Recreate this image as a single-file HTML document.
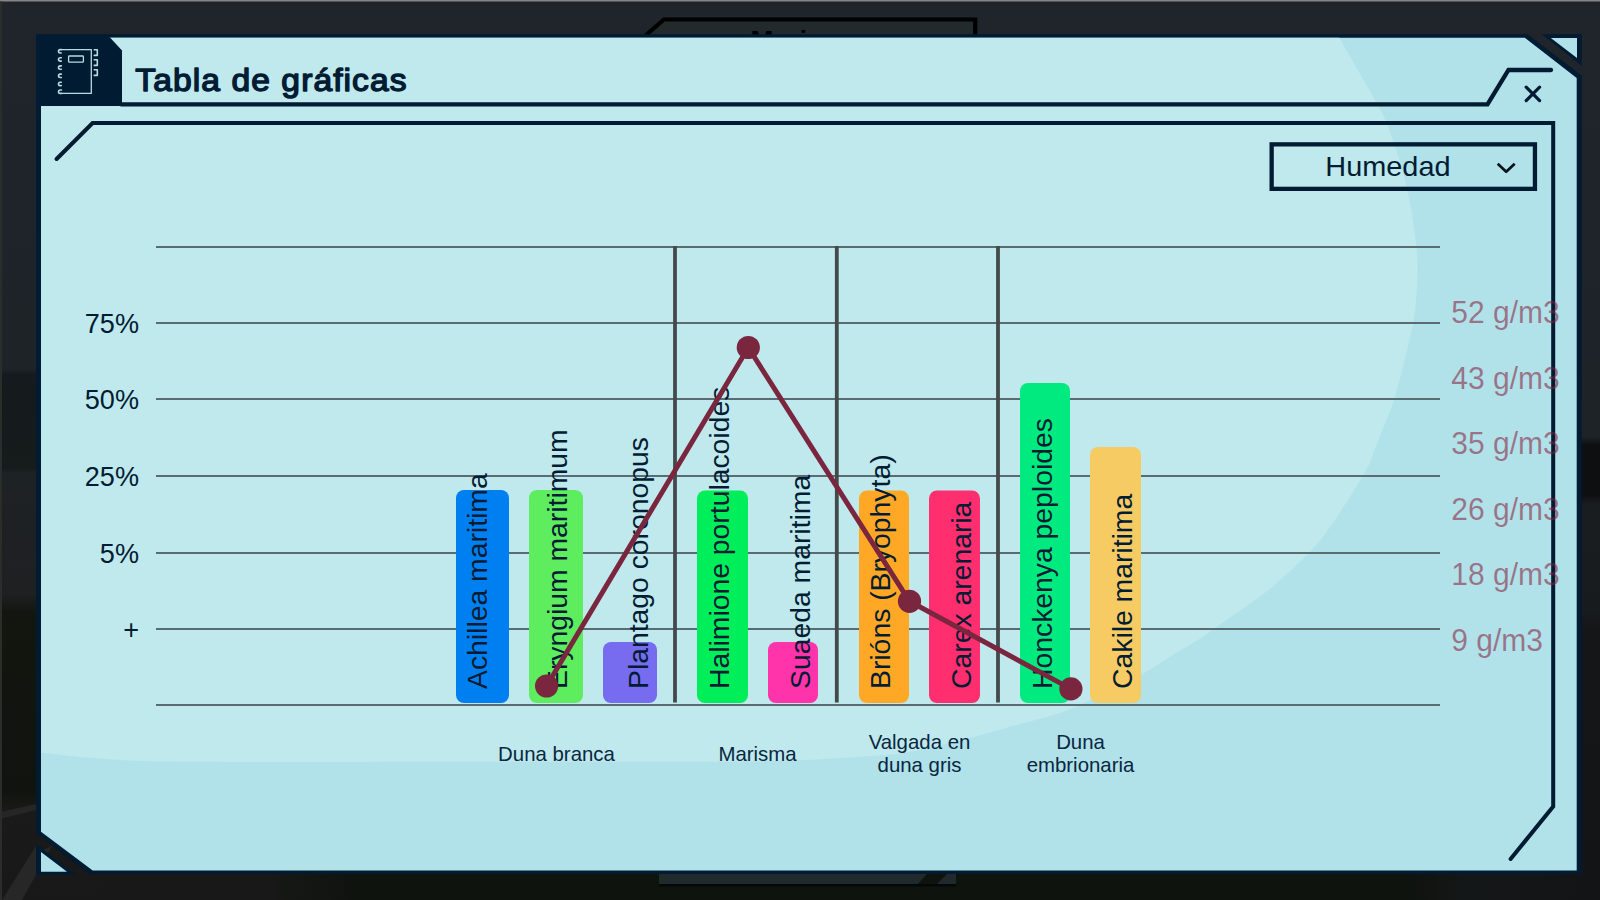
<!DOCTYPE html>
<html lang="es"><head><meta charset="utf-8"><title>Tabla de gráficas</title>
<style>
html,body{margin:0;padding:0;width:1600px;height:900px;overflow:hidden;background:#15191b;}
svg{display:block;position:absolute;left:0;top:0;}
text{font-family:"Liberation Sans",sans-serif;}
</style></head><body>
<svg width="1600" height="900" viewBox="0 0 1600 900">
<defs>
<linearGradient id="bgl" gradientUnits="userSpaceOnUse" x1="0" y1="0" x2="0" y2="900">
<stop offset="0" stop-color="#1f252b"/>
<stop offset="0.41" stop-color="#1e2328"/>
<stop offset="0.416" stop-color="#141a1d"/>
<stop offset="0.52" stop-color="#161b1b"/>
<stop offset="0.526" stop-color="#1d2225"/>
<stop offset="0.66" stop-color="#1f2022"/>
<stop offset="0.68" stop-color="#12160f"/>
<stop offset="0.88" stop-color="#11140e"/>
<stop offset="0.90" stop-color="#1a1a1a"/>
<stop offset="1" stop-color="#181818"/>
</linearGradient>
<linearGradient id="bgr" gradientUnits="userSpaceOnUse" x1="0" y1="0" x2="0" y2="900">
<stop offset="0" stop-color="#1f252b"/>
<stop offset="0.485" stop-color="#1e2328"/>
<stop offset="0.495" stop-color="#0d0f11"/>
<stop offset="0.55" stop-color="#0d0f11"/>
<stop offset="0.56" stop-color="#1a1d20"/>
<stop offset="0.68" stop-color="#181b1d"/>
<stop offset="0.70" stop-color="#141617"/>
<stop offset="1" stop-color="#121415"/>
</linearGradient>
<linearGradient id="bgb" gradientUnits="userSpaceOnUse" x1="0" y1="0" x2="1600" y2="0">
<stop offset="0" stop-color="#181818"/>
<stop offset="0.17" stop-color="#171817"/>
<stop offset="0.22" stop-color="#0f130e"/>
<stop offset="0.88" stop-color="#0f130e"/>
<stop offset="0.92" stop-color="#141718"/>
<stop offset="1" stop-color="#121415"/>
</linearGradient>
<clipPath id="inner"><polygon points="41,37.8 1524.8,37.8 1576.7,77.9 1576.7,870.6 92.7,870.6 41,831.7"/></clipPath>
</defs>
<rect width="1600" height="900" fill="#1f252b"/>
<rect x="0" y="30" width="110" height="870" fill="url(#bgl)"/>
<rect x="1560" y="30" width="40" height="870" fill="url(#bgr)"/>
<rect x="100" y="840" width="1500" height="60" fill="url(#bgb)"/>
<polygon points="0,812 36,804 36,810 0,819" fill="#262626"/>
<polygon points="2,900 36,846 44,850 52,846 22,900" fill="#272727"/>
<rect x="0" y="0" width="1600" height="1.5" fill="#858585"/>
<rect x="0" y="1.5" width="2" height="899" fill="#2c2c2c"/>
<g>
<polygon points="638,42 664,19.5 975.2,19.5 975.2,42" fill="#232a2c" stroke="#000" stroke-width="4.2"/>
<text x="750.5" y="49.7" font-size="27.5" font-weight="bold" fill="#000">Marisma</text>
</g>
<g>
<polygon points="659,874 659,884 918,884 927,874" fill="#20292b"/>
<polygon points="947,874 937,884 956,884 956,874" fill="#20292b"/>
<rect x="659" y="884" width="297" height="2.5" fill="#050808"/>
</g>
<polygon points="36,34.2 1527.5,34.2 1581.7,75.6 1581.7,874.1 89.6,874.1 36,833.3" fill="#011b32"/>
<polygon points="41,37.8 1524.8,37.8 1576.7,77.9 1576.7,870.6 92.7,870.6 41,831.7" fill="#b1e1e9"/>
<g clip-path="url(#inner)"><path d="M1325.0,10.0 C1327.4,14.7 1334.4,28.7 1339.5,38.0 C1344.6,47.3 1349.5,55.5 1355.5,66.0 C1361.5,76.5 1370.2,91.3 1375.5,101.0 C1380.8,110.7 1382.8,113.3 1387.0,124.0 C1391.2,134.7 1397.0,151.0 1401.0,165.0 C1405.0,179.0 1408.4,193.8 1411.0,208.0 C1413.6,222.2 1415.6,239.3 1416.7,250.0 C1417.8,260.7 1417.5,264.7 1417.5,272.0 C1417.5,279.3 1417.2,285.5 1416.5,294.0 C1415.8,302.5 1415.3,311.8 1413.3,323.0 C1411.3,334.2 1407.6,348.3 1404.4,361.0 C1401.2,373.7 1397.9,387.8 1394.4,399.0 C1390.9,410.2 1386.6,419.5 1383.3,428.0 C1380.0,436.5 1377.5,442.7 1374.4,450.0 C1371.4,457.3 1373.7,457.3 1365.0,472.0 C1356.3,486.7 1336.5,519.7 1322.0,538.0 C1307.5,556.3 1289.5,571.5 1278.0,582.0 C1266.5,592.5 1261.8,595.0 1253.3,601.3 C1244.8,607.6 1235.6,613.8 1226.7,620.0 C1217.8,626.2 1208.9,632.9 1200.0,638.7 C1191.1,644.5 1183.1,648.7 1173.3,654.7 C1163.5,660.7 1151.8,669.0 1141.3,674.7 C1130.8,680.4 1119.2,684.5 1110.0,689.0 C1100.8,693.5 1093.1,698.5 1086.0,702.0 C1078.9,705.5 1073.7,707.8 1067.5,710.2 C1061.3,712.6 1058.4,713.5 1049.0,716.2 C1039.6,718.9 1023.5,723.1 1011.0,726.6 C998.5,730.1 986.3,733.8 974.0,737.0 C961.7,740.2 949.3,743.3 937.0,746.0 C924.7,748.7 914.5,751.5 900.0,753.4 C885.5,755.3 866.7,756.4 850.0,757.5 C833.3,758.6 815.0,759.7 800.0,760.3 C785.0,760.9 776.7,761.0 760.0,761.2 C743.3,761.5 743.3,761.7 700.0,761.8 C656.7,761.9 566.7,761.8 500.0,761.8 C433.3,761.8 350.0,762.0 300.0,762.0 C250.0,762.0 226.7,762.0 200.0,761.8 C173.3,761.6 156.7,761.5 140.0,761.0 C123.3,760.5 111.7,759.3 100.0,758.5 C88.3,757.7 79.8,757.0 70.0,756.0 C60.2,755.0 51.0,753.8 41.0,752.5 C31.0,751.2 15.2,748.8 10.0,748.0 L10,10 Z" fill="#bfe9ed"/></g>
<polygon points="1541.9,34.2 1581.7,34.2 1581.7,65.8" fill="#011b32"/>
<polygon points="1550.8,38 1577,38 1577,58" fill="#b1e1e9"/>
<polygon points="36,844 36,874.8 76.3,874.8" fill="#011b32"/>
<polygon points="41,852 41,871.8 67,871.8" fill="#b1e1e9"/>
<polygon points="40,37 109.5,37 122,50.5 122,106 40,106" fill="#011b32"/>
<polyline points="121,104.3 1487.5,104.3 1508.5,70 1551,70" fill="none" stroke="#011b32" stroke-width="4.3" stroke-linecap="round" stroke-linejoin="miter"/>
<polyline points="56.6,159 92.6,123 1553.2,123 1553.2,806.5 1510.6,859" fill="none" stroke="#011b32" stroke-width="4" stroke-linecap="round" stroke-linejoin="miter"/>
<g fill="none" stroke="#b4dde2" stroke-width="1.3" stroke-linecap="round" stroke-linejoin="round">
<path d="M61.5,49.6 H91.3 V93.4 H61.5"/>
<rect x="68.6" y="56" width="14.8" height="6.2" rx="0.8"/>
<g stroke-width="1.6">
<path d="M61.5,49.6 h-1.3 a1.7,1.7 0 0 0 0,3.4 h1"/>
<path d="M61.3,57.7 h-1.1 a1.7,1.7 0 0 0 0,3.4 h1.1"/>
<path d="M61.3,65.9 h-1.1 a1.7,1.7 0 0 0 0,3.4 h1.1"/>
<path d="M61.3,74.1 h-1.1 a1.7,1.7 0 0 0 0,3.4 h1.1"/>
<path d="M61.3,82.2 h-1.1 a1.7,1.7 0 0 0 0,3.4 h1.1"/>
<path d="M61.5,90 h-1.3 a1.7,1.7 0 0 0 0,3.4 h1.3"/>
<path d="M94.3,49.8 h3 v5.6 h-3"/>
<path d="M94.3,59.8 h3 v5.6 h-3"/>
<path d="M94.3,69.8 h3 v5.6 h-3"/>
</g>
</g>
<text transform="translate(135.3,91) scale(1,0.95)" font-size="33.6" letter-spacing="1.08" fill="#021c33" stroke="#021c33" stroke-width="1.5" stroke-linejoin="round">Tabla de gráficas</text>
<path d="M1526.2,87.2 L1539.6,100.6 M1539.6,87.2 L1526.2,100.6" stroke="#011b32" stroke-width="3.2" stroke-linecap="round" fill="none"/>
<rect x="1271.65" y="144.35" width="263.3" height="44.5" fill="none" stroke="#011b32" stroke-width="4.3"/>
<text transform="translate(1387.9,176.2) scale(1,0.95)" font-size="28.9" text-anchor="middle" fill="#021c33">Humedad</text>
<polyline points="1497.7,163.8 1506.2,171.8 1514.7,163.8" fill="none" stroke="#08131c" stroke-width="2.7" stroke-linecap="butt" stroke-linejoin="round"/>
<rect x="156" y="246.0" width="1284" height="2" fill="#596c71"/>
<rect x="156" y="322.0" width="1284" height="2" fill="#596c71"/>
<rect x="156" y="398.0" width="1284" height="2" fill="#596c71"/>
<rect x="156" y="475.0" width="1284" height="2" fill="#596c71"/>
<rect x="156" y="552.0" width="1284" height="2" fill="#596c71"/>
<rect x="156" y="628.0" width="1284" height="2" fill="#596c71"/>
<rect x="156" y="704.0" width="1284" height="2" fill="#596c71"/>
<rect x="673.10" y="246" width="3.8" height="456.5" fill="#444a4b"/>
<rect x="834.90" y="246" width="3.8" height="456.5" fill="#444a4b"/>
<rect x="996.10" y="246" width="3.8" height="456.5" fill="#444a4b"/>
<text x="139" y="333.2" font-size="27.1" text-anchor="end" fill="#021c33">75%</text>
<text x="139" y="409.2" font-size="27.1" text-anchor="end" fill="#021c33">50%</text>
<text x="139" y="486.2" font-size="27.1" text-anchor="end" fill="#021c33">25%</text>
<text x="139" y="563.2" font-size="27.1" text-anchor="end" fill="#021c33">5%</text>
<text x="139" y="639.2" font-size="27.1" text-anchor="end" fill="#021c33">+</text>
<rect x="456" y="490" width="53" height="213" rx="8" ry="8" fill="#0080f0"/>
<rect x="529" y="490" width="54" height="213" rx="8" ry="8" fill="#5eed5e"/>
<rect x="603" y="642" width="54" height="61" rx="8" ry="8" fill="#776bf0"/>
<rect x="697" y="490.5" width="51" height="212.5" rx="8" ry="8" fill="#00ee5a"/>
<rect x="768" y="642" width="50" height="61" rx="8" ry="8" fill="#ff33aa"/>
<rect x="859" y="490.5" width="50" height="212.5" rx="8" ry="8" fill="#ffa826"/>
<rect x="929" y="490.5" width="51" height="212.5" rx="8" ry="8" fill="#ff2e6e"/>
<rect x="1020" y="383" width="50" height="320" rx="8" ry="8" fill="#00ea80"/>
<rect x="1090" y="447" width="51" height="256" rx="8" ry="8" fill="#f7cb63"/>
<text transform="translate(486.7,689) rotate(-90) scale(1,0.97)" font-size="28.35" fill="#021c33">Achillea maritima</text>
<text transform="translate(567.0,689) rotate(-90) scale(1,0.97)" font-size="28.35" fill="#021c33">Eryngium maritimum</text>
<text transform="translate(648.0,689) rotate(-90) scale(1,0.97)" font-size="28.35" fill="#021c33">Plantago coronopus</text>
<text transform="translate(729.4,689) rotate(-90) scale(1,0.97)" font-size="28.35" fill="#021c33">Halimione portulacoides</text>
<text transform="translate(809.5,689) rotate(-90) scale(1,0.97)" font-size="28.35" fill="#021c33">Suaeda maritima</text>
<text transform="translate(890.0,689) rotate(-90) scale(1,0.97)" font-size="28.35" fill="#021c33">Brións (Bryophyta)</text>
<text transform="translate(970.8,689) rotate(-90) scale(1,0.97)" font-size="28.35" fill="#021c33">Carex arenaria</text>
<text transform="translate(1051.9,689) rotate(-90) scale(1,0.97)" font-size="28.35" fill="#021c33">Honckenya peploides</text>
<text transform="translate(1132.4,689) rotate(-90) scale(1,0.97)" font-size="28.35" fill="#021c33">Cakile maritima</text>
<text transform="translate(1451.3,322.9) scale(1,1.03)" font-size="30" fill="#871e3c" fill-opacity="0.56">52 g/m3</text>
<text transform="translate(1451.3,388.5) scale(1,1.03)" font-size="30" fill="#871e3c" fill-opacity="0.56">43 g/m3</text>
<text transform="translate(1451.3,454.0) scale(1,1.03)" font-size="30" fill="#871e3c" fill-opacity="0.56">35 g/m3</text>
<text transform="translate(1451.3,520.2) scale(1,1.03)" font-size="30" fill="#871e3c" fill-opacity="0.56">26 g/m3</text>
<text transform="translate(1451.3,585.2) scale(1,1.03)" font-size="30" fill="#871e3c" fill-opacity="0.56">18 g/m3</text>
<text transform="translate(1451.3,651.3) scale(1,1.03)" font-size="30" fill="#871e3c" fill-opacity="0.56">9 g/m3</text>
<polyline points="546.6,686 748.3,347.5 909.5,601.3 1070.9,688.9" fill="none" stroke="#7b263f" stroke-width="5" stroke-linejoin="round"/>
<circle cx="546.6" cy="686" r="11.6" fill="#7b263f"/>
<circle cx="748.3" cy="347.5" r="11.6" fill="#7b263f"/>
<circle cx="909.5" cy="601.3" r="11.6" fill="#7b263f"/>
<circle cx="1070.9" cy="688.9" r="11.6" fill="#7b263f"/>
<g font-size="20.4" text-anchor="middle" fill="#092740">
<text x="556.5" y="761">Duna branca</text>
<text x="757.5" y="761">Marisma</text>
<text x="919.5" y="748.9">Valgada en</text>
<text x="919.5" y="772.1">duna gris</text>
<text x="1080.5" y="748.9">Duna</text>
<text x="1080.5" y="772.1">embrionaria</text>
</g>
</svg>
</body></html>
